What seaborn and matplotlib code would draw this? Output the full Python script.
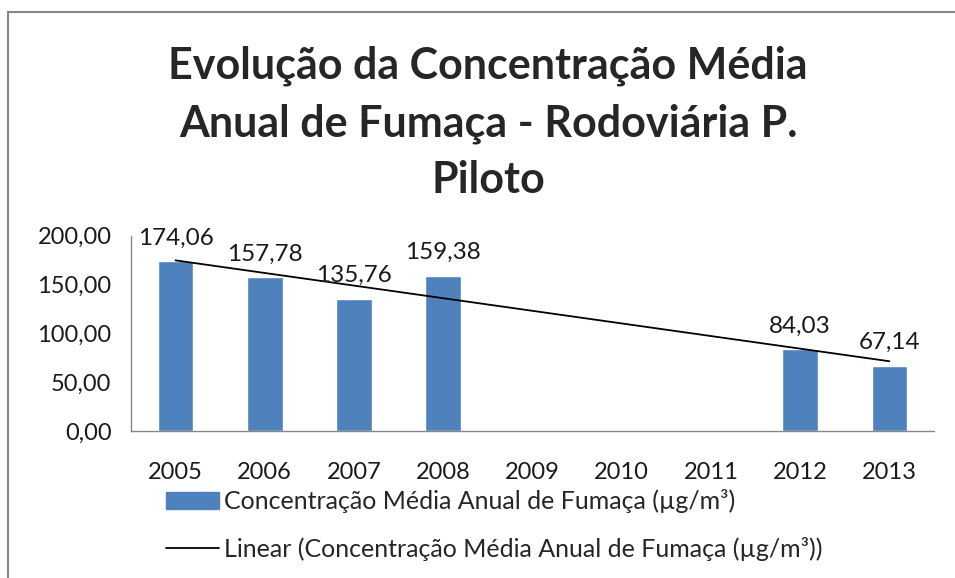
import numpy as np
import pandas as pd
import matplotlib
matplotlib.use("Agg")
import matplotlib.pyplot as plt
from matplotlib.patches import Rectangle
from matplotlib.lines import Line2D
import seaborn as sns

# dados (anos sem medição ficam vazios)
anos = ["2005", "2006", "2007", "2008", "2009", "2010", "2011", "2012", "2013"]
fumaca = [174.06, 157.78, 135.76, 159.38, np.nan, np.nan, np.nan, 84.03, 67.14]
y_ticks = [0, 50, 100, 150, 200]

serie = "Concentração Média Anual de Fumaça (µg/m³)"
titulo = "Evolução da Concentração Média\nAnual de Fumaça - Rodoviária P.\nPiloto"

sns.set_theme(style="white")
plt.rcParams['font.family'] = ['Lato', 'DejaVu Sans']

df = pd.DataFrame({"ano": anos, "valor": fumaca})

fig = plt.figure(figsize=(9.55, 5.78), dpi=100)
ax = fig.add_axes([0.137, 0.254, 0.841, 0.338])

azul = "#4F81BD"
sns.barplot(data=df, x="ano", y="valor", order=anos, color=azul,
            width=0.4, saturation=1, ax=ax)

# linha de tendência linear (como no Excel)
idx = np.arange(len(anos))
ok = ~np.isnan(np.array(fumaca))
coef = np.polyfit(idx[ok], np.array(fumaca)[ok], 1)
ax.plot(idx, np.polyval(coef, idx), color="black", lw=1.3)

# rótulos de dados
for i, v in enumerate(fumaca):
    if np.isnan(v):
        continue
    ax.annotate(f"{v:.2f}".replace(".", ","), (i, v), xytext=(0, 9),
                textcoords="offset points", ha="center", va="bottom",
                fontsize=17.5, color="#1a1a1a")

ax.set_ylim(0, 200)
ax.set_xlim(-0.5, len(anos) - 0.5)
ax.set_yticks(y_ticks)
ax.set_yticklabels([f"{t:.2f}".replace(".", ",") for t in y_ticks])
ax.set_xlabel("")
ax.set_ylabel("")
ax.set_xticks(idx, anos)
ax.set_xticks(np.arange(-0.5, len(anos)), minor=True)
ax.tick_params(axis="x", which="major", length=0, pad=22, labelsize=17)
ax.tick_params(axis="x", which="minor", length=6, width=1, color="#888888", direction="out")
ax.tick_params(axis="y", length=6, width=1, color="#888888", direction="out", labelsize=17, pad=8)
ax.tick_params(axis="both", labelcolor="#1a1a1a")
for s in ["top", "right"]:
    ax.spines[s].set_visible(False)
for s in ["left", "bottom"]:
    ax.spines[s].set_color("#888888")
    ax.spines[s].set_linewidth(1)

fig.text(0.511, 1 - 123 / 578, titulo, ha="center", va="center",
         fontsize=31, fontweight="bold", linespacing=1.5)

handles = [Rectangle((0, 0), 1, 1, color=azul), Line2D([], [], color="black", lw=1.3)]
fig.legend(handles, [serie, "Linear (" + serie + ")"], loc="upper left",
           bbox_to_anchor=(166 / 955, 1 - 489 / 578), frameon=False, fontsize=18,
           handlelength=2.1, handletextpad=0.2, labelspacing=0.95, borderpad=0,
           borderaxespad=0)

# moldura do gráfico
fig.patches.append(Rectangle((8 / 955, -0.1), 1.2, 1 - 12 / 578 + 0.1,
                             transform=fig.transFigure, fill=False,
                             edgecolor="#888888", lw=1.5))

fig.savefig("out.png", dpi=100)
